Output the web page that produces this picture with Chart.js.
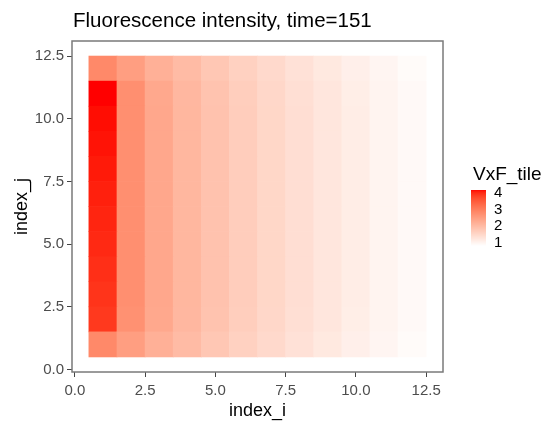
<!DOCTYPE html>
<html>
<head>
<meta charset="utf-8">
<script src="https://cdn.jsdelivr.net/npm/chart.js@4.4.1/dist/chart.umd.min.js"></script>
<style>
html,body{margin:0;padding:0;background:#fff;}
canvas{display:block;}
</style>
</head>
<body>
<canvas id="c" width="549" height="423"></canvas>
<script>
// ---- data ----
const indexI = [1,2,3,4,5,6,7,8,9,10,11,12];
const indexJ = [1,2,3,4,5,6,7,8,9,10,11,12];
// VxF_tile values, one array per row j (values along index_i = 1..12)
const row1  = [2.85,2.50,2.20,2.00,1.80,1.62,1.47,1.33,1.20,1.08,0.97,0.88];
const row2  = [3.90,2.72,2.33,2.07,1.87,1.67,1.51,1.37,1.24,1.11,1.00,0.90];
const row3  = [3.95,2.74,2.35,2.08,1.88,1.68,1.52,1.38,1.25,1.12,1.00,0.90];
const row4  = [3.99,2.75,2.35,2.08,1.88,1.68,1.52,1.38,1.25,1.12,1.00,0.90];
const row5  = [4.03,2.75,2.35,2.08,1.88,1.68,1.52,1.38,1.25,1.12,1.00,0.90];
const row6  = [4.06,2.75,2.35,2.08,1.88,1.68,1.52,1.38,1.25,1.12,1.00,0.90];
const row7  = [4.09,2.75,2.35,2.08,1.88,1.68,1.52,1.38,1.25,1.12,1.00,0.90];
const row8  = [4.12,2.75,2.35,2.08,1.88,1.68,1.52,1.38,1.25,1.12,1.00,0.90];
const row9  = [4.15,2.75,2.35,2.08,1.88,1.68,1.52,1.38,1.25,1.12,1.00,0.90];
const row10 = [4.17,2.75,2.35,2.08,1.88,1.68,1.52,1.38,1.25,1.12,1.00,0.90];
const row11 = [4.20,2.74,2.33,2.07,1.87,1.67,1.51,1.37,1.24,1.11,1.00,0.90];
const row12 = [2.85,2.50,2.20,2.00,1.80,1.62,1.47,1.33,1.20,1.08,0.97,0.88];
const rows = [row1,row2,row3,row4,row5,row6,row7,row8,row9,row10,row11,row12];
const xTicks = [0,2.5,5,7.5,10,12.5];
const yTicks = [0,2.5,5,7.5,10,12.5];
const legendTicks = [1,2,3,4];
const fillMin = 0.8, fillMax = 4.2;

// ---- colour scale: white -> red interpolated in CIELAB ----
function toLin(c){c/=255;return c<=0.04045?c/12.92:Math.pow((c+0.055)/1.055,2.4);}
function toS(c){c=Math.max(0,Math.min(1,c));return Math.round(255*(c<=0.0031308?12.92*c:1.055*Math.pow(c,1/2.4)-0.055));}
function rgb2lab(rgb){
  const R=toLin(rgb[0]),G=toLin(rgb[1]),B=toLin(rgb[2]);
  const X=(0.4124*R+0.3576*G+0.1805*B)/0.95047;
  const Y=(0.2126*R+0.7152*G+0.0722*B);
  const Z=(0.0193*R+0.1192*G+0.9505*B)/1.08883;
  const f=t=>t>0.008856?Math.cbrt(t):(7.787*t+16/116);
  const fx=f(X),fy=f(Y),fz=f(Z);
  return [116*fy-16,500*(fx-fy),200*(fy-fz)];
}
function lab2rgb(L,a,b){
  const fy=(L+16)/116, fx=fy+a/500, fz=fy-b/200;
  const inv=t=>{const t3=t*t*t;return t3>0.008856?t3:(t-16/116)/7.787;};
  const X=0.95047*inv(fx),Y=inv(fy),Z=1.08883*inv(fz);
  const R=3.2406*X-1.5372*Y-0.4986*Z;
  const G=-0.9689*X+1.8758*Y+0.0415*Z;
  const B=0.0557*X-0.2040*Y+1.0570*Z;
  return 'rgb('+toS(R)+','+toS(G)+','+toS(B)+')';
}
const labLow = rgb2lab([255,255,255]);
const labHigh = rgb2lab([255,0,0]);
function colorFor(v){
  let t=(v-fillMin)/(fillMax-fillMin); t=Math.max(0,Math.min(1,t));
  return lab2rgb(labLow[0]+(labHigh[0]-labLow[0])*t, labLow[1]+(labHigh[1]-labLow[1])*t, labLow[2]+(labHigh[2]-labLow[2])*t);
}

const FONT = '"Liberation Sans", Arial, Helvetica, sans-serif';

const datasets = indexJ.map((j,r)=>({
  label: 'j'+j,
  data: indexI.map((i,k)=>({x:i, y:[j-0.5, j+0.5]})),
  backgroundColor: rows[r].map(v=>colorFor(v)),
  borderWidth: 0,
  barPercentage: 1,
  categoryPercentage: 1,
  grouped: false
}));

const decor = {
  id: 'decor',
  afterDraw(chart){
    const ctx = chart.ctx, a = chart.chartArea;
    ctx.save();
    // panel border
    ctx.strokeStyle = '#7a7a7a';
    ctx.lineWidth = 1.5;
    ctx.strokeRect(a.left, a.top, a.right-a.left, a.bottom-a.top);
    // title
    ctx.fillStyle = '#000';
    ctx.font = '20.5px ' + FONT;
    ctx.textAlign = 'left';
    ctx.textBaseline = 'alphabetic';
    ctx.fillText('Fluorescence intensity, time=151', 73, 27);
    // legend title
    ctx.font = '19px ' + FONT;
    ctx.fillText('VxF_tile', 473, 180);
    // colour bar
    const bx = 471, bw = 15, top = 190, bottom = 246;
    const n = bottom - top;
    for (let p = 0; p < n; p++) {
      const v = fillMax - (p + 0.5) / n * (fillMax - fillMin);
      ctx.fillStyle = colorFor(v);
      ctx.fillRect(bx, top + p, bw, 1.02);
    }
    // legend labels
    ctx.fillStyle = '#000';
    ctx.font = '15px ' + FONT;
    ctx.textBaseline = 'middle';
    legendTicks.forEach(v=>{
      const y = bottom - (v - fillMin) / (fillMax - fillMin) * (bottom - top);
      ctx.fillText(String(v), 494, y);
    });
    ctx.restore();
  }
};

new Chart(document.getElementById('c'), {
  type: 'bar',
  data: { datasets },
  options: {
    responsive: false,
    animation: false,
    devicePixelRatio: 1,
    layout: { padding: { left: 0, right: 106, top: 41, bottom: 0 } },
    plugins: { legend: { display: false }, tooltip: { enabled: false }, title: { display: false } },
    scales: {
      x: {
        type: 'linear',
        offset: false,
        min: -0.1, max: 13.1,
        afterBuildTicks: s => { s.ticks = xTicks.map(v=>({value:v})); },
        afterFit: s => { s.height = 51; },
        grid: { display: true, offset: false, drawOnChartArea: false, drawTicks: true, tickLength: 5, color: '#444', lineWidth: 1 },
        border: { display: false },
        ticks: { color: '#4d4d4d', font: { family: FONT, size: 15 }, padding: 5, maxRotation: 0, autoSkip: false,
                 callback: v => Number(v).toFixed(1) },
        title: { display: true, text: 'index_i', color: '#000', font: { family: FONT, size: 18 }, padding: { top: 0, bottom: 1 } }
      },
      y: {
        type: 'linear',
        min: -0.1, max: 13.1,
        afterBuildTicks: s => { s.ticks = yTicks.map(v=>({value:v})); },
        afterFit: s => { s.width = 72; },
        grid: { display: true, drawOnChartArea: false, drawTicks: true, tickLength: 5, color: '#444', lineWidth: 1 },
        border: { display: false },
        ticks: { color: '#4d4d4d', font: { family: FONT, size: 15 }, padding: 3, autoSkip: false,
                 callback: v => Number(v).toFixed(1) },
        title: { display: true, text: 'index_j', color: '#000', font: { family: FONT, size: 18 }, padding: { top: 11, bottom: 0 } }
      }
    }
  },
  plugins: [decor]
});
</script>
</body>
</html>
